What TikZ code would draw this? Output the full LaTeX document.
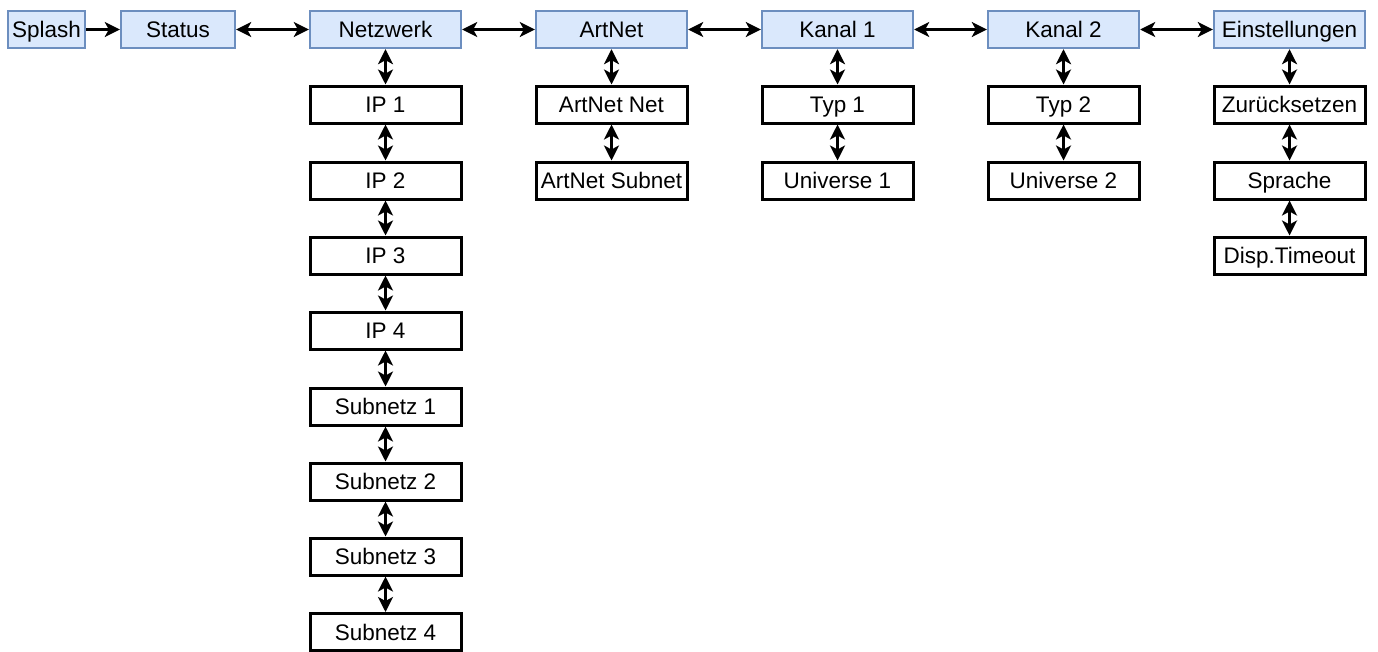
\documentclass[tikz,border=0pt]{standalone}
\usepackage{fontspec}
\setmainfont{Liberation Sans}
\usetikzlibrary{arrows.meta}
\definecolor{topfill}{HTML}{DAE8FC}
\definecolor{topdraw}{HTML}{6C8EBF}
\begin{document}
\begin{tikzpicture}[x=1pt,y=-1pt,
  box/.style={draw=black,line width=3pt,fill=white,minimum height=37pt,minimum width=151pt,inner sep=0pt,
    text height=16pt,text depth=0pt,font=\fontsize{22.5}{26}\selectfont},
  topbox/.style={box,draw=topdraw,line width=2.4pt,fill=topfill},
  tip/.tip={Stealth[length=15pt,width=15pt,inset=4pt]},
  conn/.style={line width=2.8pt,tip-tip},
  oneway/.style={line width=2.8pt,-tip}]
\useasboundingbox (0,0) rectangle (1378,651);
\node[topbox,minimum width=77pt] (splash) at (46.5,29.5) {Splash};
\node[topbox,minimum width=114pt] (status) at (178,29.5) {Status};
\node[topbox] (netz) at (385.5,29.5) {Netzwerk};
\node[topbox] (artnet) at (611.5,29.5) {ArtNet};
\node[topbox] (k1) at (837.5,29.5) {Kanal 1};
\node[topbox] (k2) at (1063.5,29.5) {Kanal 2};
\node[topbox] (einst) at (1289.5,29.5) {Einstellungen};
% Netzwerk column
\node[box] (ip1) at (385.5,104.5) {IP 1};
\node[box] (ip2) at (385.5,180.5) {IP 2};
\node[box] (ip3) at (385.5,255.5) {IP 3};
\node[box] (ip4) at (385.5,330.5) {IP 4};
\node[box] (sn1) at (385.5,406.5) {Subnetz 1};
\node[box] (sn2) at (385.5,481.5) {Subnetz 2};
\node[box] (sn3) at (385.5,556.5) {Subnetz 3};
\node[box] (sn4) at (385.5,632) {Subnetz 4};
% ArtNet column
\node[box] (anet) at (611.5,104.5) {ArtNet Net};
\node[box] (asub) at (611.5,180.5) {ArtNet Subnet};
% Kanal 1
\node[box] (typ1) at (837.5,104.5) {Typ 1};
\node[box] (uni1) at (837.5,180.5) {Universe 1};
% Kanal 2
\node[box] (typ2) at (1063.5,104.5) {Typ 2};
\node[box] (uni2) at (1063.5,180.5) {Universe 2};
% Einstellungen
\node[box] (reset) at (1289.5,104.5) {Zurücksetzen};
\node[box] (lang) at (1289.5,180.5) {Sprache};
\node[box] (disp) at (1289.5,255.5) {Disp.Timeout};
% horizontal connectors
\draw[oneway] (splash) -- (status);
\draw[conn] (status) -- (netz);
\draw[conn] (netz) -- (artnet);
\draw[conn] (artnet) -- (k1);
\draw[conn] (k1) -- (k2);
\draw[conn] (k2) -- (einst);
% vertical connectors
\draw[conn] (netz) -- (ip1);
\draw[conn] (ip1) -- (ip2);
\draw[conn] (ip2) -- (ip3);
\draw[conn] (ip3) -- (ip4);
\draw[conn] (ip4) -- (sn1);
\draw[conn] (sn1) -- (sn2);
\draw[conn] (sn2) -- (sn3);
\draw[conn] (sn3) -- (sn4);
\draw[conn] (artnet) -- (anet);
\draw[conn] (anet) -- (asub);
\draw[conn] (k1) -- (typ1);
\draw[conn] (typ1) -- (uni1);
\draw[conn] (k2) -- (typ2);
\draw[conn] (typ2) -- (uni2);
\draw[conn] (einst) -- (reset);
\draw[conn] (reset) -- (lang);
\draw[conn] (lang) -- (disp);
\end{tikzpicture}
\end{document}
